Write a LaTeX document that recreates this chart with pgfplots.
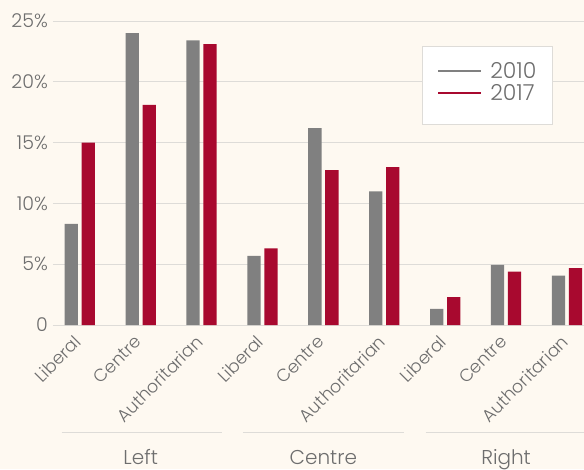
\documentclass[border=0pt]{standalone}
\usepackage{pgfplots}
\pgfplotsset{compat=1.18}
\usepackage{fontspec}
\setmainfont{Poppins Light}
\definecolor{bg}{HTML}{FEF9F1}
\definecolor{bargrey}{HTML}{808080}
\definecolor{barred}{HTML}{A8092F}
\definecolor{gridc}{HTML}{DEDCD8}
\definecolor{txt}{HTML}{6E6E6E}
\begin{document}
\begin{tikzpicture}
\fill[bg] (-53pt,-144pt) rectangle (531pt,325pt);
\begin{axis}[
  at={(0,0)}, anchor=south west,
  scale only axis, width=531pt, height=304pt,
  xmin=-0.44, xmax=8.28, ymin=0, ymax=25,
  axis line style={draw=none},
  major tick length=0pt,
  ytick={0,5,10,15,20,25},
  yticklabels={0,5\%,10\%,15\%,20\%,25\%},
  ymajorgrids, grid style={gridc, line width=1pt},
  xtick={0,...,8},
  xticklabels={Liberal,Centre,Authoritarian,Liberal,Centre,Authoritarian,Liberal,Centre,Authoritarian},
  yticklabel style={font=\fontsize{19}{19}\selectfont, text=txt, inner sep=0pt, xshift=-5pt},
  xticklabel style={font=\fontsize{17.5}{17.5}\selectfont, text=txt, anchor=north east, inner sep=0pt, xshift=-7pt, yshift=-9pt, rotate=45},
  clip=false,
  legend style={at={(rel axis cs:0.6955,0.919)}, anchor=north west, draw=gridc, fill=white, line width=1pt,
    font=\fontsize{22}{22}\selectfont, text=txt, inner xsep=14pt, inner ysep=14pt, row sep=0.5pt,
    column sep=6pt, nodes={inner sep=2pt}},
  legend cell align=left,
]
\addplot[ybar, bar width=13.3pt, bar shift=-8.5pt, fill=bargrey, draw=none,
  legend image code/.code={\draw[bargrey, line width=2.5pt] (0pt,0pt) -- (43pt,0pt);}]
  coordinates {(0,8.32) (1,24.0) (2,23.4) (3,5.68) (4,16.2) (5,10.98) (6,1.32) (7,4.94) (8,4.06)};
\addlegendentry{2010}
\addplot[ybar, bar width=13.3pt, bar shift=8.5pt, fill=barred, draw=none,
  legend image code/.code={\draw[barred, line width=2.5pt] (0pt,0pt) -- (43pt,0pt);}]
  coordinates {(0,15.0) (1,18.1) (2,23.1) (3,6.3) (4,12.74) (5,12.99) (6,2.3) (7,4.39) (8,4.67)};
\addlegendentry{2017}
\addlegendimage{empty legend}
\addlegendentry{\rule{0pt}{1pt}}
\draw[gridc, line width=1pt] ([yshift=-107.7pt]axis cs:-0.30,0) -- ([yshift=-107.7pt]axis cs:2.34,0);
\draw[gridc, line width=1pt] ([yshift=-107.7pt]axis cs:2.68,0) -- ([yshift=-107.7pt]axis cs:5.32,0);
\draw[gridc, line width=1pt] ([yshift=-107.7pt]axis cs:5.68,0) -- ([yshift=-107.7pt]axis cs:8.28,0);
\node[anchor=base, font=\fontsize{20}{20}\selectfont, text=txt] at ([yshift=-139pt]axis cs:1,0) {Left};
\node[anchor=base, font=\fontsize{20}{20}\selectfont, text=txt] at ([yshift=-139pt]axis cs:4,0) {Centre};
\node[anchor=base, font=\fontsize{20}{20}\selectfont, text=txt] at ([yshift=-139pt]axis cs:7,0) {Right};
\end{axis}
\pgfresetboundingbox
\path (-53pt,-144pt) rectangle (531pt,325pt);
\end{tikzpicture}
\end{document}
